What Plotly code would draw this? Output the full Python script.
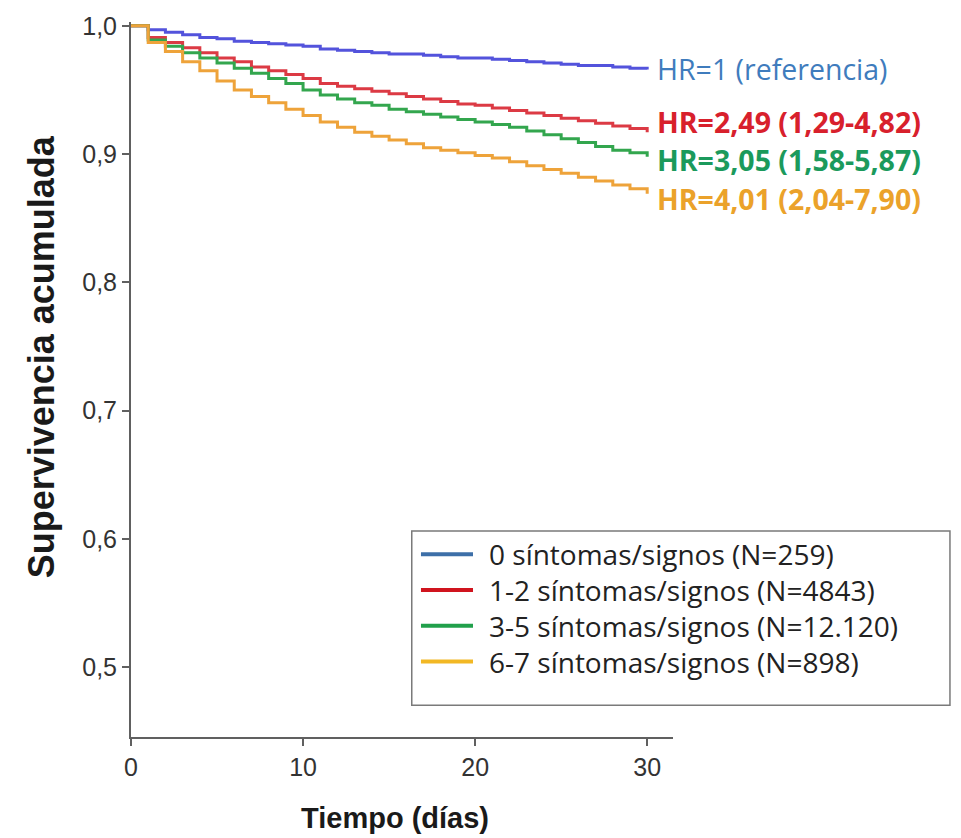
import plotly.graph_objects as go

# Kaplan-Meier style cumulative survival by number of symptoms/signs
dias = list(range(0, 31))

grupos = [
    "0 síntomas/signos (N=259)",
    "1-2 síntomas/signos (N=4843)",
    "3-5 síntomas/signos (N=12.120)",
    "6-7 síntomas/signos (N=898)",
]

sup_0 = [1.000, 0.997, 0.995, 0.993, 0.991, 0.990, 0.988, 0.987, 0.986, 0.985,
         0.984, 0.982, 0.981, 0.980, 0.979, 0.978, 0.978, 0.977, 0.976, 0.975,
         0.975, 0.974, 0.973, 0.972, 0.971, 0.970, 0.969, 0.969, 0.968, 0.967, 0.966]
sup_1_2 = [1.000, 0.991, 0.987, 0.983, 0.979, 0.975, 0.972, 0.968, 0.965, 0.962,
           0.959, 0.955, 0.953, 0.951, 0.949, 0.947, 0.945, 0.943, 0.941, 0.939,
           0.938, 0.936, 0.934, 0.932, 0.930, 0.928, 0.926, 0.924, 0.922, 0.920, 0.917]
sup_3_5 = [1.000, 0.989, 0.984, 0.979, 0.975, 0.971, 0.967, 0.963, 0.959, 0.955,
           0.950, 0.946, 0.943, 0.940, 0.938, 0.935, 0.933, 0.931, 0.929, 0.927,
           0.925, 0.923, 0.921, 0.918, 0.915, 0.912, 0.909, 0.906, 0.903, 0.901, 0.898]
sup_6_7 = [1.000, 0.987, 0.980, 0.972, 0.965, 0.957, 0.950, 0.945, 0.940, 0.935,
           0.930, 0.925, 0.921, 0.917, 0.914, 0.911, 0.908, 0.905, 0.903, 0.901,
           0.899, 0.897, 0.894, 0.891, 0.888, 0.885, 0.882, 0.879, 0.876, 0.873, 0.869]

etiquetas_hr = [
    "HR=1 (referencia)",
    "<b>HR=2,49 (1,29-4,82)</b>",
    "<b>HR=3,05 (1,58-5,87)</b>",
    "<b>HR=4,01 (2,04-7,90)</b>",
]

series = [sup_0, sup_1_2, sup_3_5, sup_6_7]
color_curva = ["#5353dc", "#dc3a44", "#33a64e", "#eea33a"]
color_leyenda = ["#3d6fa8", "#d0141e", "#21a04b", "#f2b824"]
color_texto = ["#3f7cbd", "#d8202c", "#1b9a5c", "#eba22a"]
desplaz_y = [0, 10, -3, -5]

fig = go.Figure()

for nombre, vals, col in zip(grupos, series, color_curva):
    fig.add_trace(go.Scatter(
        x=dias, y=vals, mode="lines", name=nombre,
        line=dict(color=col, width=3, shape="hv"), showlegend=False,
    ))

# hazard ratio labels at the end of each curve
for vals, txt, col, dy in zip(series, etiquetas_hr, color_texto, desplaz_y):
    fig.add_annotation(
        x=dias[-1], y=vals[-1], xref="x", yref="y", text=txt, showarrow=False,
        xanchor="left", yanchor="middle", xshift=8, yshift=dy,
        font=dict(family="Open Sans", size=28.5, color=col),
    )

# boxed key in the lower right of the plot area
caja_x0, caja_x1 = 0.518, 1.511
caja_y0, caja_y1 = 0.0445, 0.288
fila_y0, fila_paso = 0.2555, 0.0500
fig.add_shape(type="rect", xref="paper", yref="paper",
              x0=caja_x0, x1=caja_x1, y0=caja_y0, y1=caja_y1,
              line=dict(color="#7a7a7a", width=1.5), fillcolor="white", layer="above")
for i, (nombre, col) in enumerate(zip(grupos, color_leyenda)):
    yy = fila_y0 - i * fila_paso
    fig.add_shape(type="line", xref="paper", yref="paper",
                  x0=0.535, x1=0.631, y0=yy, y1=yy,
                  line=dict(color=col, width=4), layer="above")
    fig.add_annotation(
        x=0.657, y=yy, xref="paper", yref="paper", text=nombre, showarrow=False,
        xanchor="left", yanchor="middle",
        font=dict(family="Open Sans", size=28, color="#222222"),
    )

fig.add_annotation(
    x=-0.166, y=0.531, xref="paper", yref="paper", text="<b>Supervivencia acumulada</b>",
    textangle=-90, showarrow=False, xanchor="center", yanchor="middle",
    font=dict(family="Liberation Sans", size=36, color="#1a1a1a"),
)
fig.add_annotation(
    x=0.487, y=-0.1126, xref="paper", yref="paper", text="<b>Tiempo (días)</b>",
    showarrow=False, xanchor="center", yanchor="middle",
    font=dict(family="Liberation Sans", size=29, color="#1a1a1a"),
)

eje = dict(
    showline=True, linecolor="#606060", linewidth=2, ticks="outside", ticklen=7,
    tickwidth=2, tickcolor="#606060", showgrid=False, zeroline=False,
    tickfont=dict(family="Liberation Sans", size=25, color="#333333"),
)

fig.update_layout(
    width=961, height=838,
    margin=dict(l=131, r=288, t=18, b=101),
    paper_bgcolor="white", plot_bgcolor="white",
    separators=",.",
    xaxis=dict(range=[0, 31.5], tickvals=[0, 10, 20, 30], **eje),
    yaxis=dict(range=[0.4455, 1.003], tickvals=[0.5, 0.6, 0.7, 0.8, 0.9, 1.0],
               tickformat=".1f", **eje),
    showlegend=False,
)

fig.write_html("out.html")
